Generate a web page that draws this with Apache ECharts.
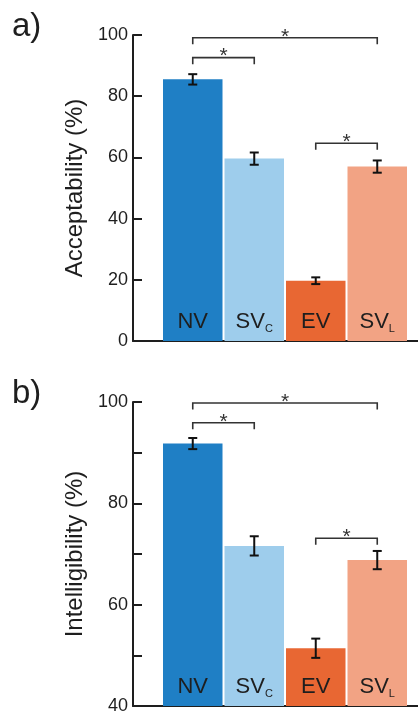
<!DOCTYPE html>
<html>
<head>
<meta charset="utf-8">
<script src="https://cdn.jsdelivr.net/npm/echarts@6/dist/echarts.min.js"></script>
<style>
  html, body { margin: 0; padding: 0; background: #fff; }
  #chart { width: 418px; height: 713px; }
</style>
</head>
<body>
<div id="chart"></div>
<script>
// conditions, "_" marks the subscript part
const conditions = ['NV', 'SV_C', 'EV', 'SV_L'];
const barColors = ['#1f7fc5', '#9ecdec', '#e86733', '#f2a384'];

const acceptability = [85.5, 59.6, 19.7, 57.0];
const acceptabilityErr = [1.7, 2.0, 1.1, 2.0];
const intelligibility = [91.8, 71.6, 51.4, 68.8];
const intelligibilityErr = [1.1, 1.9, 1.9, 1.8];

// significance brackets: [from bar, to bar, bracket level]
const acceptabilitySig = [[0, 3, 99.1], [0, 1, 92.6], [2, 3, 64.6]];
const intelligibilitySig = [[0, 3, 99.8], [0, 1, 95.9], [2, 3, 73.1]];

const acceptabilityLabels = [0, 20, 40, 60, 80, 100];
const intelligibilityLabels = [40, 60, 80, 100];

const font = "'Liberation Sans', Arial, sans-serif";
const ink = '#1e1e1e';

const errorBar = (params, api) => {
  const x = api.value(0);
  const hi = api.coord([x, api.value(1) + api.value(2)]);
  const lo = api.coord([x, api.value(1) - api.value(2)]);
  const w = 4.5;
  const style = { stroke: '#111', lineWidth: 2 };
  return {
    type: 'group',
    children: [
      { type: 'line', shape: { x1: hi[0], y1: hi[1], x2: lo[0], y2: lo[1] }, style },
      { type: 'line', shape: { x1: hi[0] - w, y1: hi[1], x2: hi[0] + w, y2: hi[1] }, style },
      { type: 'line', shape: { x1: lo[0] - w, y1: lo[1], x2: lo[0] + w, y2: lo[1] }, style },
    ],
  };
};

const bracket = (params, api) => {
  const a = api.coord([api.value(0), api.value(2)]);
  const b = api.coord([api.value(1), api.value(2)]);
  const leg = 6.5;
  return {
    type: 'group',
    children: [
      {
        type: 'polyline',
        shape: { points: [[a[0], a[1] + leg], [a[0], a[1]], [b[0], b[1]], [b[0], b[1] + leg]] },
        style: { stroke: '#333', lineWidth: 1.6, fill: null },
      },
      {
        type: 'text',
        x: (a[0] + b[0]) / 2,
        y: a[1] - 1,
        style: { text: '*', fontSize: 21, fontFamily: font, fill: '#333', align: 'center', verticalAlign: 'middle' },
      },
    ],
  };
};

const barLabel = {
  show: true,
  position: 'insideBottom',
  distance: 7,
  formatter: (p) => {
    const [main, sub] = p.name.split('_');
    return sub ? `{m|${main}}{s|${sub}}` : `{m|${main}}`;
  },
  rich: {
    m: { fontSize: 22, lineHeight: 24, color: ink, fontFamily: font },
    s: { fontSize: 11, lineHeight: 6, verticalAlign: 'bottom', color: ink, fontFamily: font },
  },
};

const frameY = (idx, name, min, max, interval, labels) => ({
  gridIndex: idx,
  type: 'value',
  min, max, interval,
  axisLine: { show: true, lineStyle: { color: ink, width: 2 } },
  axisTick: { show: true, inside: true, length: 9, lineStyle: { color: ink, width: 2 } },
  axisLabel: {
    fontSize: 18, color: ink, fontFamily: font, margin: 5,
    formatter: (v) => (labels.includes(v) ? String(v) : ''),
  },
  splitLine: { show: false },
  name,
  nameLocation: 'middle',
  nameGap: 41,
  nameTextStyle: { fontSize: 24, color: ink, fontFamily: font },
});

const hiddenY = (idx, min, max) => ({ gridIndex: idx, type: 'value', min, max, show: false, splitLine: { show: false } });

const frameX = (idx) => ({
  gridIndex: idx,
  type: 'value',
  min: 0, max: 1,
  axisLine: { show: true, onZero: false, lineStyle: { color: ink, width: 2 } },
  axisTick: { show: false },
  axisLabel: { show: false },
  splitLine: { show: false },
});

const barX = (idx) => ({ gridIndex: idx, type: 'category', data: conditions, show: false });

const chart = echarts.init(document.getElementById('chart'), null, { renderer: 'canvas' });

chart.setOption({
  animation: false,
  backgroundColor: '#fff',
  textStyle: { fontFamily: font },
  title: [
    { text: 'a)', left: 12, top: 10, padding: 0, textStyle: { fontSize: 33, fontWeight: 'normal', color: ink, fontFamily: font } },
    { text: 'b)', left: 12, top: 377, padding: 0, textStyle: { fontSize: 33, fontWeight: 'normal', color: ink, fontFamily: font } },
  ],
  grid: [
    { left: 162, right: 10, top: 35, bottom: 372, outerBoundsMode: 'none' },
    { left: 133, right: 0, top: 35, bottom: 372, outerBoundsMode: 'none' },
    { left: 162, right: 10, top: 402, bottom: 7, outerBoundsMode: 'none' },
    { left: 133, right: 0, top: 402, bottom: 7, outerBoundsMode: 'none' },
  ],
  xAxis: [barX(0), frameX(1), barX(2), frameX(3)],
  yAxis: [
    hiddenY(0, 0, 100),
    frameY(1, 'Acceptability (%)', 0, 100, 20, acceptabilityLabels),
    hiddenY(2, 40, 100),
    frameY(3, 'Intelligibility (%)', 40, 100, 10, intelligibilityLabels),
  ],
  series: [
    {
      type: 'bar', xAxisIndex: 0, yAxisIndex: 0, barWidth: 59.5,
      data: acceptability.map((v, i) => ({ value: v, itemStyle: { color: barColors[i] } })),
      label: barLabel,
    },
    {
      type: 'custom', xAxisIndex: 0, yAxisIndex: 0, renderItem: errorBar, z: 5,
      data: acceptability.map((v, i) => [i, v, acceptabilityErr[i]]),
    },
    {
      type: 'custom', xAxisIndex: 0, yAxisIndex: 0, renderItem: bracket, z: 5,
      encode: { x: 0, y: 2 },
      data: acceptabilitySig,
    },
    {
      type: 'bar', xAxisIndex: 2, yAxisIndex: 2, barWidth: 59.5,
      data: intelligibility.map((v, i) => ({ value: v, itemStyle: { color: barColors[i] } })),
      label: barLabel,
    },
    {
      type: 'custom', xAxisIndex: 2, yAxisIndex: 2, renderItem: errorBar, z: 5,
      data: intelligibility.map((v, i) => [i, v, intelligibilityErr[i]]),
    },
    {
      type: 'custom', xAxisIndex: 2, yAxisIndex: 2, renderItem: bracket, z: 5,
      encode: { x: 0, y: 2 },
      data: intelligibilitySig,
    },
  ],
});
</script>
</body>
</html>
